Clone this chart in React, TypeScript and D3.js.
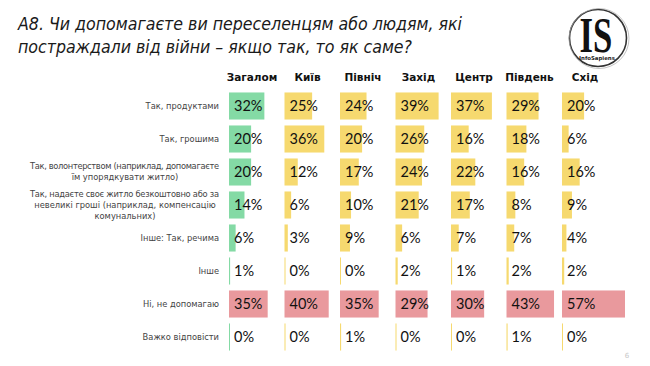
import React from 'react';
import * as d3 from 'd3';

const W = 650;
const H = 366;

const titleLines = [
  'А8. Чи допомагаєте ви переселенцям або людям, які',
  'постраждали від війни – якщо так, то як саме?',
];
const titleWidths = [444, 394];

const columns = ['Загалом', 'Київ', 'Північ', 'Захід', 'Центр', 'Південь', 'Схід'];

const rowLabels = [
  ['Так, продуктами'],
  ['Так, грошима'],
  ['Так, волонтерством (наприклад, допомагаєте', 'їм упорядкувати житло)'],
  ['Так, надаєте своє житло безкоштовно або за', 'невеликі гроші (наприклад, компенсацію', 'комунальних)'],
  ['Інше: Так, речима'],
  ['Інше'],
  ['Ні, не допомагаю'],
  ['Важко відповісти'],
];

// values per column (same order as columns), one array per row
const products = [32, 25, 24, 39, 37, 29, 20];
const money = [20, 36, 20, 26, 16, 18, 6];
const volunteering = [20, 12, 17, 24, 22, 16, 16];
const housing = [14, 6, 10, 21, 17, 8, 9];
const things = [6, 3, 9, 6, 7, 7, 4];
const other = [1, 0, 0, 2, 1, 2, 2];
const noHelp = [35, 40, 35, 29, 30, 43, 57];
const hardToSay = [0, 0, 1, 0, 0, 1, 0];

const rows = [products, money, volunteering, housing, things, other, noHelp, hardToSay];
const noHelpRow = 6;

const GREEN = '#84daa5';
const YELLOW = '#f6d96f';
const PINK = '#e9999d';

export default function App() {
  const x = d3.scalePoint<string>().domain(columns).range([229, 562]);
  const y = d3
    .scaleBand<number>()
    .domain(d3.range(rows.length))
    .range([89.5, 353.5])
    .paddingInner(0.18)
    .paddingOuter(0.09);
  const w = d3.scaleLinear().domain([0, 57]).range([0, 63]);

  const color = (ri: number, ci: number) => (ri === noHelpRow ? PINK : ci === 0 ? GREEN : YELLOW);

  return (
    <svg
      width={W}
      height={H}
      style={{ position: 'fixed', left: 0, top: 0, background: '#fff', display: 'block' }}
    >
      {/* title */}
      <g fontFamily="'DejaVu Sans Condensed', 'DejaVu Sans', sans-serif" fontStyle="italic" fontSize={18} fill="#1a1a1a">
        {titleLines.map((t, i) => (
          <text key={i} x={18} y={30 + i * 23} textLength={titleWidths[i]} lengthAdjust="spacingAndGlyphs">
            {t}
          </text>
        ))}
      </g>

      {/* logo */}
      <g>
        <circle cx={598} cy={38} r={28.5} fill="none" stroke="#333" strokeWidth={1.6} />
        <circle cx={599} cy={38.5} r={30} fill="none" stroke="#aaa" strokeWidth={0.7} />
        <text
          transform="translate(596,52) scale(0.68,1)"
          textAnchor="middle"
          fontFamily="'Liberation Serif', 'DejaVu Serif', serif"
          fontWeight="bold"
          fontSize={51}
          fill="#111"
        >
          IS
        </text>
        <text x={597} y={59.5} textAnchor="middle" fontFamily="'DejaVu Sans', sans-serif" fontWeight="bold" fontSize={5.4} fill="#222">
          InfoSapiens
        </text>
      </g>

      {/* column headers */}
      <g fontFamily="'DejaVu Sans', Verdana, sans-serif" fontWeight="bold" fontSize={10.5} fill="#111" textAnchor="middle">
        {columns.map((c) => (
          <text key={c} x={(x(c) as number) + 23} y={81}>
            {c}
          </text>
        ))}
      </g>

      {/* row labels */}
      <g fontFamily="'DejaVu Sans', Tahoma, sans-serif" fontSize={8.3} fill="#444">
        {rowLabels.map((lines, ri) => {
          const cy = (y(ri) as number) + y.bandwidth() / 2;
          if (lines.length === 1) {
            return (
              <text key={ri} x={219} y={cy} dy="0.35em" textAnchor="end">
                {lines[0]}
              </text>
            );
          }
          const lh = 11;
          const top = cy - ((lines.length - 1) * lh) / 2;
          return (
            <g key={ri}>
              {lines.map((l, li) => (
                <text
                  key={li}
                  x={li === 0 ? 30 : 125}
                  y={top + li * lh}
                  dy="0.35em"
                  textAnchor={li === 0 ? 'start' : 'middle'}
                  textLength={li === 0 ? 189 : undefined}
                  lengthAdjust="spacing"
                >
                  {l}
                </text>
              ))}
            </g>
          );
        })}
      </g>

      {/* bars */}
      {rows.map((vals, ri) => (
        <g key={ri}>
          {vals.map((v, ci) => {
            const bx = x(columns[ci]) as number;
            const by = y(ri) as number;
            return (
              <g key={ci}>
                <rect x={bx} y={by} width={Math.max(w(v), 1)} height={y.bandwidth()} fill={color(ri, ci)} />
                <text
                  x={bx + 5}
                  y={by + y.bandwidth() / 2}
                  dy="0.36em"
                  fontFamily="Lato, 'Open Sans', sans-serif"
                  fontSize={14.5}
                  fill="#111"
                >
                  {v}%
                </text>
              </g>
            );
          })}
        </g>
      ))}

      {/* page number */}
      <text x={627} y={358} fontFamily="'DejaVu Sans', sans-serif" fontSize={7} fill="#c8c8c8" textAnchor="middle">
        6
      </text>
    </svg>
  );
}
